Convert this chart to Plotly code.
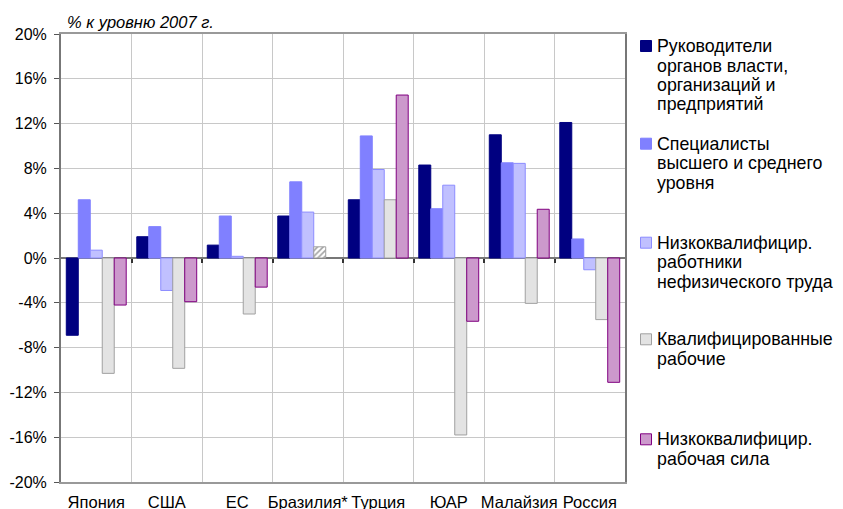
import plotly.graph_objects as go

countries = ["Япония", "США", "ЕС", "Бразилия*", "Турция", "ЮАР", "Малайзия", "Россия"]

managers = [-6.9, 1.9, 1.15, 3.75, 5.2, 8.3, 11.0, 12.1]
specialists = [5.2, 2.8, 3.75, 6.8, 10.9, 4.4, 8.5, 1.7]
low_office = [0.7, -2.9, 0.15, 4.1, 7.9, 6.5, 8.45, -1.05]
skilled = [-10.3, -9.85, -5.0, 1.0, 5.2, -15.8, -4.05, -5.5]
low_labour = [-4.2, -3.9, -2.6, None, 14.55, -5.65, 4.35, -11.1]

series_names = [
    ["Руководители", "органов власти,", "организаций и", "предприятий"],
    ["Специалисты", "высшего и среднего", "уровня"],
    ["Низкоквалифицир.", "работники", "нефизического труда"],
    ["Квалифицированные", "рабочие"],
    ["Низкоквалифицир.", "рабочая сила"],
]

yticks = [-20, -16, -12, -8, -4, 0, 4, 8, 12, 16, 20]

FONT = "Liberation Sans, Arial, sans-serif"
W, H = 843, 509
OFF = 7  # page offset of the figure inside the browser window
L, R, T, B = 60 - OFF, 843 - 624 + OFF, 33 - OFF, 509 - 481 + OFF
PW, PH = W - L - R, H - T - B


def px(x):
    return (x - OFF - L) / PW


def py(y):
    return (H - B - (y - OFF)) / PH


fills = ["#000080", "#8080FF", "#C0C0FF", "#E3E3E3", "#CC99CC"]
borders = ["#000080", "#8080FF", "#8C8CFF", "#A0A0A0", "#800080"]
series = [managers, specialists, low_office, skilled, low_labour]

fig = go.Figure()

for i, vals in enumerate(series):
    marker = dict(color=fills[i], line=dict(color=borders[i], width=1))
    if i == 3:
        marker["pattern"] = dict(
            shape=["" if c != "Бразилия*" else "/" for c in countries],
            fgcolor="#000080",
            bgcolor="#FFFFFF",
            size=4,
            solidity=0.4,
            fillmode="overlay",
        )
        marker["color"] = ["#E3E3E3" if c != "Бразилия*" else "#FFFFFF" for c in countries]
    fig.add_trace(go.Bar(
        x=countries, y=vals, name=" ".join(series_names[i]), marker=marker,
        showlegend=False,
    ))

fig.add_trace(go.Scatter(x=[0], y=[0], xaxis="x2", mode="markers",
                         marker=dict(opacity=0), showlegend=False, hoverinfo="skip"))

fig.update_layout(
    width=W, height=H,
    barmode="group", bargap=0.15, bargroupgap=0,
    plot_bgcolor="white", paper_bgcolor="white",
    margin=dict(l=L, r=R, t=T, b=B),
    font=dict(family=FONT, size=15, color="black"),
    showlegend=False,
    xaxis=dict(
        type="category", tickson="boundaries", showgrid=True,
        gridcolor="#C8C8C8", gridwidth=1,
        showline=True, linecolor="#999999", linewidth=1.5, mirror=True,
        ticks="", tickangle=0, automargin=False,
        tickfont=dict(size=16.5), ticklabelstandoff=4,
    ),
    xaxis2=dict(
        overlaying="x", anchor="free", position=0.5, side="bottom",
        range=[-0.5, len(countries) - 0.5],
        tickvals=[i + 0.5 for i in range(len(countries) - 1)],
        ticks="outside", ticklen=4, tickwidth=1.5, tickcolor="#333333",
        showticklabels=False, showgrid=False, showline=False, zeroline=False,
        automargin=False,
    ),
    yaxis=dict(
        range=[-20, 20], tickvals=yticks,
        ticktext=[f"{v}%" for v in yticks],
        showgrid=True, gridcolor="#C8C8C8", gridwidth=1,
        zeroline=True, zerolinecolor="#777777", zerolinewidth=2,
        showline=True, linecolor="#777777", linewidth=2, mirror=True,
        ticks="outside", ticklen=5, tickcolor="#555555",
        tickfont=dict(size=16), automargin=False, ticklabelstandoff=4,
    ),
)

# custom legend
first_line_y = [45, 142.7, 241.7, 338.3, 438.3]
line_gap = 19.5
for i, lines in enumerate(series_names):
    y0 = first_line_y[i]
    fig.add_shape(
        type="rect", xref="paper", yref="paper",
        x0=px(639.5), x1=px(650.5), y0=py(y0 - 5.5), y1=py(y0 + 5.5),
        fillcolor=fills[i], line=dict(color=borders[i], width=1),
    )
    for j, t in enumerate(lines):
        fig.add_annotation(
            text=t, xref="paper", yref="paper",
            x=px(654), y=py(y0 + j * line_gap), xanchor="left", yanchor="middle",
            showarrow=False, font=dict(family=FONT, size=17.8, color="black"),
        )

fig.add_annotation(
    text="<i>% к уровню 2007 г.</i>", xref="paper", yref="paper",
    x=px(64), y=py(21), xanchor="left", yanchor="middle",
    showarrow=False, font=dict(family=FONT, size=16.5, color="black"),
)

fig.write_html("out.html")
